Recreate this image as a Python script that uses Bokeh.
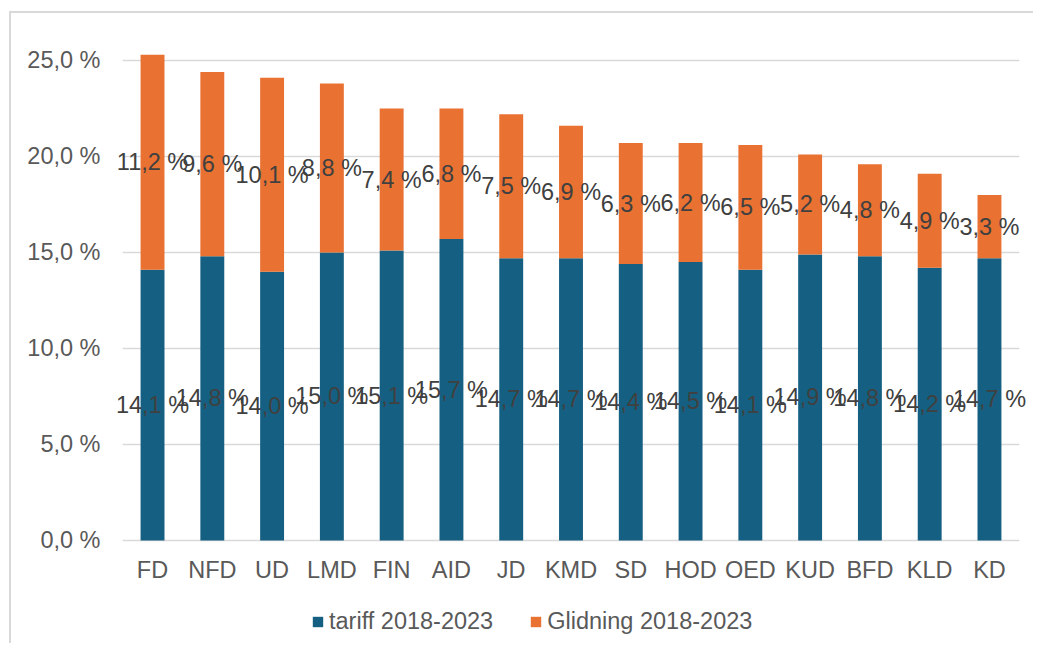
from bokeh.plotting import figure
from bokeh.models import FactorRange, Range1d, Legend, LegendItem, ColumnDataSource, FixedTicker, CustomJSTickFormatter
from bokeh.core.properties import value
from bokeh.embed import file_html
from bokeh.resources import INLINE

categories = ["FD", "NFD", "UD", "LMD", "FIN", "AID", "JD", "KMD", "SD", "HOD", "OED", "KUD", "BFD", "KLD", "KD"]
tariff = [14.1, 14.8, 14.0, 15.0, 15.1, 15.7, 14.7, 14.7, 14.4, 14.5, 14.1, 14.9, 14.8, 14.2, 14.7]
glidning = [11.2, 9.6, 10.1, 8.8, 7.4, 6.8, 7.5, 6.9, 6.3, 6.2, 6.5, 5.2, 4.8, 4.9, 3.3]
y_ticks = [0, 5, 10, 15, 20, 25]
series_names = ["tariff 2018-2023", "Glidning 2018-2023"]

BLUE = "#156082"
ORANGE = "#E97132"
FONT = "Liberation Sans"
FS = "23.5px"

def fmt(v):
    return ("%.1f" % v).replace(".", ",") + " %"

src = ColumnDataSource(dict(
    cat=categories,
    base=[0] * len(categories),
    tariff=tariff,
    glidning=glidning,
    t_mid=[t / 2 for t in tariff],
    g_mid=[t + g / 2 for t, g in zip(tariff, glidning)],
    t_lab=[fmt(v) for v in tariff],
    g_lab=[fmt(v) for v in glidning],
))

# the frame is a little wider than the category band (so edge labels are not
# clipped) and runs down to the page bottom (for category labels and legend)
W, H = 1024, 632
TOP = 27
PX_PER_UNIT = 19.2
frame_h = H - TOP
y_start = -(frame_h - 500) / PX_PER_UNIT
p = figure(x_range=FactorRange(*categories, range_padding=0.27, range_padding_units="absolute"),
           y_range=Range1d(y_start, 26.04),
           width=W, height=H, output_backend="svg", toolbar_location=None,
           min_border_left=95, min_border_right=0, min_border_top=TOP, min_border_bottom=0)

# horizontal gridlines spanning only the category band
n = len(categories)
p.segment(x0=[0] * len(y_ticks), x1=[n] * len(y_ticks), y0=y_ticks, y1=y_ticks,
          line_color="#D9D9D9", line_width=1.5)

r = p.vbar_stack(["tariff", "glidning"], x="cat", width=0.4, source=src,
                 color=[BLUE, ORANGE], line_color=None)

p.text(x="cat", y="t_mid", text="t_lab", source=src, text_align="center", text_baseline="middle",
       text_font=value(FONT), text_font_size=FS, text_color="#404040")
p.text(x="cat", y="g_mid", text="g_lab", source=src, text_align="center", text_baseline="middle",
       text_font=value(FONT), text_font_size=FS, text_color="#404040")
# category labels under the zero line
p.text(x="cat", y="base", text="cat", source=src, text_align="center", text_baseline="middle",
       y_offset=30, text_font=value(FONT), text_font_size=FS, text_color="#595959")

p.outline_line_color = None
p.xaxis.visible = False
p.xgrid.grid_line_color = None
p.ygrid.grid_line_color = None
p.yaxis.ticker = FixedTicker(ticks=y_ticks)
p.yaxis.formatter = CustomJSTickFormatter(code="return tick.toFixed(1).replace('.', ',') + ' %';")
p.yaxis.axis_line_color = None
p.yaxis.major_tick_line_color = None
p.yaxis.minor_tick_line_color = None
p.yaxis.major_label_text_font = FONT
p.yaxis.major_label_text_font_size = FS
p.yaxis.major_label_text_color = "#595959"
p.yaxis.major_label_standoff = 0

legend = Legend(items=[LegendItem(label=series_names[0], renderers=[r[0]]),
                       LegendItem(label=series_names[1], renderers=[r[1]])],
                orientation="horizontal", location=(205, 10),
                label_text_font=FONT, label_text_font_size=FS, label_text_color="#595959",
                glyph_width=13, glyph_height=13, label_standoff=5, spacing=36,
                border_line_color=None, background_fill_alpha=0, margin=0, padding=4)
p.add_layout(legend)

p.styles = {"border-left": "2px solid #D9D9D9", "border-top": "2px solid #D9D9D9",
            "margin-left": "9px", "margin-top": "11px"}

open("out.html", "w").write(file_html(p, INLINE))
